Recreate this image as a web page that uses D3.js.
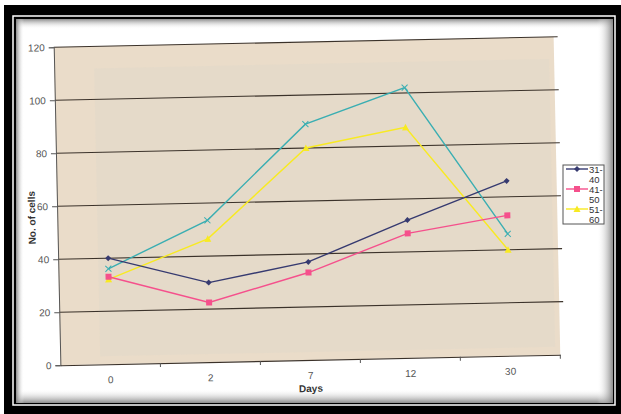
<!DOCTYPE html>
<html>
<head>
<meta charset="utf-8">
<script src="https://cdn.jsdelivr.net/npm/d3@7"></script>
<style>
  html, body { margin: 0; padding: 0; background: #ffffff; }
  svg { display: block; font-family: "Liberation Sans", Arial, sans-serif; }
</style>
</head>
<body>
<svg id="chart" width="621" height="414"></svg>
<script>
// ---- data ----
const days = ["0", "2", "7", "12", "30"];
const yTickValues = [0, 20, 40, 60, 80, 100, 120];
const legendLabels = [["31-", "40"], ["41-", "50"], ["51-", "60"]];
const age31to40 = [40, 30, 37, 52, 66];
const age41to50 = [33, 22.5, 33, 47, 53];
const age51to60 = [32, 46.5, 80, 87, 40];
const unlabeledSeries = [36, 53.5, 89, 102, 46];

const seriesList = [
  { values: unlabeledSeries, color: "#3aaeb2", marker: "x", legend: null },
  { values: age51to60, color: "#f8ea22", marker: "triangle", legend: 2 },
  { values: age41to50, color: "#f5508c", marker: "square", legend: 1 },
  { values: age31to40, color: "#363a70", marker: "diamond", legend: 0 }
];

const W = 621, H = 414;
const svg = d3.select("#chart");
const defs = svg.append("defs");

// ---- frame ----
svg.append("rect").attr("x", 4).attr("y", 5).attr("width", W - 4).attr("height", H - 5).attr("fill", "#000");
svg.append("rect").attr("x", 13).attr("y", 16).attr("width", 602).attr("height", 389)
  .attr("fill", "none").attr("stroke", "#fff").attr("stroke-width", 1.5);
svg.append("rect").attr("x", 16).attr("y", 19).attr("width", 597).attr("height", 384).attr("fill", "#fff");

function grad(id, x1, y1, x2, y2) {
  const gr = defs.append("linearGradient").attr("id", id)
    .attr("x1", x1).attr("y1", y1).attr("x2", x2).attr("y2", y2);
  gr.append("stop").attr("offset", "0%").attr("stop-color", "#777").attr("stop-opacity", 0.85);
  gr.append("stop").attr("offset", "100%").attr("stop-color", "#fff").attr("stop-opacity", 0);
}
grad("gTop", 0, 0, 0, 1);
grad("gBottom", 0, 1, 0, 0);
grad("gLeft", 0, 0, 1, 0);
grad("gRight", 1, 0, 0, 0);
svg.append("rect").attr("x", 16).attr("y", 19).attr("width", 597).attr("height", 10).attr("fill", "url(#gTop)");
svg.append("rect").attr("x", 16).attr("y", 389).attr("width", 597).attr("height", 14).attr("fill", "url(#gBottom)");
svg.append("rect").attr("x", 16).attr("y", 19).attr("width", 8).attr("height", 384).attr("fill", "url(#gLeft)");
svg.append("rect").attr("x", 597).attr("y", 19).attr("width", 16).attr("height", 384).attr("fill", "url(#gRight)");

// ---- chart (slightly rotated, like the scan) ----
const pLeft = 57, pRight = 557, pTop = 42, pBottom = 360;
const g = svg.append("g").attr("transform", "rotate(-1.2, 307, 201)");

const x = d3.scaleBand().domain(days).range([pLeft, pRight]);
const y = d3.scaleLinear().domain([0, 120]).range([pBottom, pTop]);
const cx = d => x(d) + x.bandwidth() / 2;

g.append("rect").attr("x", pLeft).attr("y", pTop).attr("width", pRight - pLeft).attr("height", pBottom - pTop)
  .attr("fill", "#eadcc9");
g.append("rect").attr("x", pLeft + 40).attr("y", pTop + 22).attr("width", pRight - pLeft - 45).attr("height", pBottom - pTop - 30)
  .attr("fill", "#e4d9c9").attr("opacity", 0.8);

// gridlines
g.append("g").selectAll("line").data(yTickValues.filter(v => v > 0)).join("line")
  .attr("x1", pLeft).attr("x2", pRight + 4)
  .attr("y1", d => y(d)).attr("y2", d => y(d))
  .attr("stroke", "#3b322a").attr("stroke-width", 1.1);

// y axis
const yAxis = g.append("g").attr("transform", `translate(${pLeft},0)`)
  .call(d3.axisLeft(y).tickValues(yTickValues).tickSize(5).tickPadding(4));
yAxis.select(".domain").attr("stroke", "#555");
yAxis.selectAll(".tick line").attr("stroke", "#555");
yAxis.selectAll("text").attr("fill", "#555").attr("font-size", 10).attr("font-family", "Liberation Sans, Arial, sans-serif");

// x axis
const xAxis = g.append("g").attr("transform", `translate(0,${pBottom})`)
  .call(d3.axisBottom(x).tickSize(0).tickPadding(12));
xAxis.select(".domain").attr("stroke", "#3b322a").attr("stroke-width", 1.1);
xAxis.selectAll("text").attr("fill", "#555").attr("font-size", 10).attr("font-family", "Liberation Sans, Arial, sans-serif");
const bounds = days.slice(1).map(d => x(d)).concat([pRight]);
g.append("g").selectAll("line").data(bounds).join("line")
  .attr("x1", d => d).attr("x2", d => d).attr("y1", pBottom).attr("y2", pBottom + 4)
  .attr("stroke", "#555");

// axis titles
g.append("text").attr("x", (pLeft + pRight) / 2).attr("y", 392).attr("text-anchor", "middle")
  .attr("font-size", 10).attr("font-weight", "bold").attr("fill", "#333").text("Days");
g.append("text").attr("transform", "translate(35,212) rotate(-90)").attr("text-anchor", "middle")
  .attr("font-size", 10).attr("font-weight", "bold").attr("fill", "#333").text("No. of cells");

// markers
function drawMarker(sel, type, color, px, py, s) {
  if (type === "diamond") {
    sel.append("path").attr("d", `M${px},${py - s}L${px + s},${py}L${px},${py + s}L${px - s},${py}Z`).attr("fill", color);
  } else if (type === "square") {
    sel.append("rect").attr("x", px - s).attr("y", py - s).attr("width", 2 * s).attr("height", 2 * s).attr("fill", color);
  } else if (type === "triangle") {
    sel.append("path").attr("d", `M${px},${py - s - 0.5}L${px + s + 0.5},${py + s}L${px - s - 0.5},${py + s}Z`).attr("fill", color);
  } else if (type === "x") {
    sel.append("path").attr("d", `M${px - s},${py - s}L${px + s},${py + s}M${px + s},${py - s}L${px - s},${py + s}`)
      .attr("stroke", color).attr("stroke-width", 1);
  }
}
const sizes = { diamond: 3, square: 3, triangle: 3, x: 3 };

const line = d3.line().x((d, i) => cx(days[i])).y(d => y(d));
seriesList.forEach(s => {
  g.append("path").datum(s.values).attr("d", line).attr("fill", "none")
    .attr("stroke", s.color).attr("stroke-width", 1.4);
  const mg = g.append("g");
  s.values.forEach((v, i) => drawMarker(mg, s.marker, s.color, cx(days[i]), y(v), sizes[s.marker]));
});

// ---- legend ----
const lg = svg.append("g");
lg.append("rect").attr("x", 563).attr("y", 165).attr("width", 41).attr("height", 59)
  .attr("fill", "#fff").attr("stroke", "#555").attr("stroke-width", 1);
const legendSeries = seriesList.filter(s => s.legend !== null).sort((a, b) => a.legend - b.legend);
legendSeries.forEach((s, k) => {
  const ly = 169 + k * 20;
  lg.append("line").attr("x1", 566).attr("x2", 588).attr("y1", ly).attr("y2", ly)
    .attr("stroke", s.color).attr("stroke-width", 1.4);
  drawMarker(lg, s.marker, s.color, 577, ly, sizes[s.marker]);
  lg.append("text").attr("x", 589).attr("y", ly + 4).attr("font-size", 9.5).attr("fill", "#333").text(legendLabels[k][0]);
  lg.append("text").attr("x", 589).attr("y", ly + 14).attr("font-size", 9.5).attr("fill", "#333").text(legendLabels[k][1]);
});
</script>
</body>
</html>
